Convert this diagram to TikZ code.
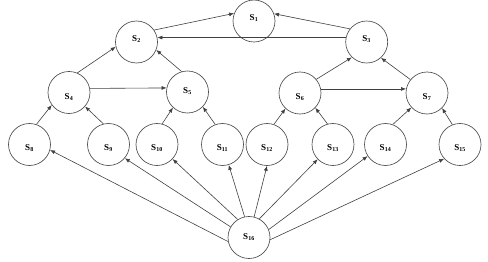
\documentclass[tikz,border=0pt]{standalone}
\usepackage{fontspec}
\setmainfont{Liberation Serif}
\usetikzlibrary{arrows.meta}
\begin{document}
\begin{tikzpicture}[x=1pt,y=-1pt,
  st/.style={circle,draw=black!70,line width=0.65pt,minimum size=42pt,inner sep=0pt},
  lab/.style={font=\fontsize{9}{10}\selectfont\bfseries,inner sep=0pt},
  edge/.style={draw=black!75,line width=0.6pt,-{Latex[length=5pt,width=4pt]}}]
\useasboundingbox (0,0) rectangle (488,262);
\node[st,label={[lab,yshift=3pt]center:S\textsubscript{1}}] (s1) at (254,21) {};
\node[st,label={[lab,yshift=3pt]center:S\textsubscript{2}}] (s2) at (136.5,42) {};
\node[st,label={[lab,yshift=3pt]center:S\textsubscript{3}}] (s3) at (366.7,42) {};
\node[st,label={[lab,yshift=-5pt]center:S\textsubscript{4}}] (s4) at (69,92.5) {};
\node[st,label={[lab,yshift=1pt]center:S\textsubscript{5}}] (s5) at (187.5,92) {};
\node[st,label={[lab,yshift=-4pt]center:S\textsubscript{6}}] (s6) at (300,93) {};
\node[st,label={[lab,yshift=-4pt]center:S\textsubscript{7}}] (s7) at (427,93) {};
\node[st,label={[lab,yshift=-4pt]center:S\textsubscript{8}}] (s8) at (29.5,144.5) {};
\node[st,label={[lab,yshift=-4pt]center:S\textsubscript{9}}] (s9) at (108.5,144.5) {};
\node[st,label={[lab,yshift=-4pt]center:S\textsubscript{10}}] (s10) at (157,144.5) {};
\node[st,label={[lab,yshift=-4pt]center:S\textsubscript{11}}] (s11) at (222.5,144.5) {};
\node[st,label={[lab,yshift=-4pt]center:S\textsubscript{12}}] (s12) at (267,144.5) {};
\node[st,label={[lab,yshift=-4pt]center:S\textsubscript{13}}] (s13) at (333,144.5) {};
\node[st,label={[lab,yshift=-4pt]center:S\textsubscript{14}}] (s14) at (385.5,144.5) {};
\node[st,label={[lab,yshift=-4pt]center:S\textsubscript{15}}] (s15) at (460,144.5) {};
\node[st,label={[lab,yshift=0pt]center:S\textsubscript{16}}] (s16) at (249,237.5) {};
% top layer
\draw[edge] (s2.34) -- (s1.159);
\draw[edge] (s3.142) -- (s1.20);
\draw[edge] (s3.168) -- (s2.12);
\draw[edge] (s4.67) -- (s2.193);
\draw[edge] (s5.106) -- (s2.338);
\draw[edge] (s4.11) -- (s5.169);
\draw[edge] (s6.40) -- (s3.226);
\draw[edge] (s7.141) -- (s3.312);
\draw[edge] (s6.11) -- (s7.169);
% bottom row to middle
\draw[edge] (s8.71) -- (s4.216);
\draw[edge] (s9.104) -- (s4.319);
\draw[edge] (s10.76) -- (s5.227);
\draw[edge] (s11.110) -- (s5.316);
\draw[edge] (s12.71) -- (s6.227);
\draw[edge] (s13.105) -- (s6.316);
\draw[edge] (s14.70) -- (s7.223);
\draw[edge] (s15.111) -- (s7.315);
% from s16
\draw[edge] (s16.191) -- (s8.345);
\draw[edge] (s16.150) -- (s9.320);
\draw[edge] (s16.122) -- (s10.317);
\draw[edge] (s16.102) -- (s11.287);
\draw[edge] (s16.76) -- (s12.270);
\draw[edge] (s16.61) -- (s13.224);
\draw[edge] (s16.22) -- (s14.213);
\draw[edge] (s16.354) -- (s15.222);
\end{tikzpicture}
\end{document}
